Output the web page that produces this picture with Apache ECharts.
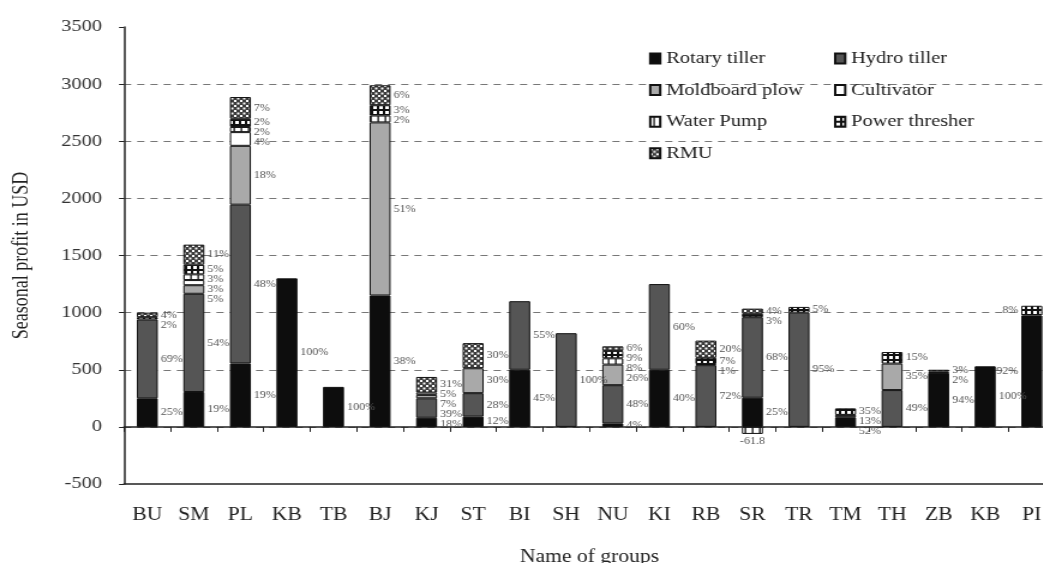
<!DOCTYPE html>
<html><head><meta charset="utf-8">
<script src="https://cdn.jsdelivr.net/npm/echarts@6/dist/echarts.min.js"></script>
<style>html,body{margin:0;padding:0;background:#fff}#wrap{width:1043px;height:563px;overflow:hidden;position:relative}#c{height:563px;transform-origin:0 0;position:absolute;left:0;top:0}</style>
</head><body><div id="wrap"><div id="c"></div></div>
<script>
const categories = ["BU","SM","PL","KB","TB","BJ","KJ","ST","BI","SH","NU","KI","RB","SR","TR","TM","TH","ZB","KB","PI"];
const seriesNames = ["Rotary tiller","Hydro tiller","Moldboard plow","Cultivator","Water Pump","Power thresher","RMU"];
const rotaryTiller  = [250, 305, 555, 1300, 350, 1150, 80, 90, 500, 0, 30, 500, 0, 255, 0, 84, 0, 472, 530, 975];
const hydroTiller   = [690, 860, 1390, 0, 0, 0, 170, 205, 600, 820, 335, 750, 540, 705, 1000, 21, 322, 12, 0, 0];
const moldboardPlow = [0, 75, 515, 0, 0, 1515, 30, 218, 0, 0, 180, 0, 0, 0, 0, 0, 232, 0, 0, 0];
const cultivator    = [0, 45, 120, 0, 0, 0, 20, 0, 0, 0, 0, 0, 0, 0, 0, 0, 0, 0, 0, 0];
const waterPump     = [0, 50, 45, 0, 0, 60, 0, 0, 0, 0, 55, 0, 10, -61.8, 0, 0, 0, 0, 0, 0];
const powerThresher = [20, 85, 72, 0, 0, 90, 0, 0, 0, 0, 65, 0, 55, 30, 50, 57, 101, 0, 0, 85];
const rmu           = [40, 175, 190, 0, 0, 175, 137, 220, 0, 0, 40, 0, 150, 45, 0, 0, 0, 16, 0, 0];
const yAxisName = "Seasonal profit in USD";
const xAxisName = "Name of groups";

const allValues = [rotaryTiller, hydroTiller, moldboardPlow, cultivator, waterPump, powerThresher, rmu];
const FONT = "'Liberation Serif', serif";

// the reference figure is horizontally stretched; draw narrower and stretch the same way
const SX = 1.2;
const W = 1043, H = 563;
const el = document.getElementById('c');
el.style.width = (W / SX) + 'px';
el.style.transform = 'scaleX(' + SX + ')';
const px = v => v / SX;   // horizontal page pixels -> chart pixels

function pattern(size, draw) {
  const c = document.createElement('canvas');
  c.width = size; c.height = size;
  const g = c.getContext('2d');
  draw(g, size);
  return { image: c, repeat: 'repeat' };
}
const fills = [
  '#0d0d0d',
  '#555555',
  '#a9a9a9',
  '#ffffff',
  pattern(6, (g, s) => { g.fillStyle = '#fff'; g.fillRect(0, 0, s, s); g.fillStyle = '#111'; g.fillRect(2.5, 0, 1.3, s); }),
  pattern(5, (g, s) => { g.fillStyle = '#111'; g.fillRect(0, 0, s, s); g.fillStyle = '#fff'; g.fillRect(1, 1, 3, 3); }),
  pattern(5, (g, s) => { g.fillStyle = '#3a3a3a'; g.fillRect(0, 0, s, s); g.fillStyle = '#fff'; g.fillRect(0, 0, 2, 2); g.fillRect(2.5, 2.5, 2, 2); })
];

const totals = categories.map((_, i) => allValues.reduce((a, arr) => a + (arr[i] > 0 ? arr[i] : 0), 0));

const chart = echarts.init(el, null, { renderer: 'canvas' });

function buildSeries(offsets) {
  return seriesNames.map((name, k) => ({
    name, type: 'bar', stack: 'total', xAxisIndex: 0, yAxisIndex: 0, barWidth: px(21),
    itemStyle: { color: fills[k], borderColor: '#111', borderWidth: 1 },
    label: {
      show: true, position: 'right', distance: px(3), fontFamily: FONT, fontSize: 10, color: '#555',
      formatter: p => {
        const v = p.value;
        if (v < 0) return String(v);
        return Math.round(v / totals[p.dataIndex] * 100) + '%';
      }
    },
    data: allValues[k].map((v, i) => {
      if (v === 0) return '-';
      const lab = {};
      if (v < 0) lab.position = 'bottom';
      else if (i === categories.length - 1) lab.position = 'left';
      if (offsets && offsets[k][i]) lab.offset = [0, offsets[k][i]];
      return { value: v, label: lab };
    })
  }));
}

const legendText = { fontFamily: FONT, fontSize: 17, color: '#222' };
const legendCommon = { orient: 'vertical', top: 45, itemWidth: px(10), itemHeight: 10, itemGap: 14.6,
  textStyle: legendText, icon: 'rect' };
const option = {
  animation: false,
  backgroundColor: '#fff',
  textStyle: { fontFamily: FONT },
  grid: { left: px(124), width: px(931), top: 27, bottom: 79, containLabel: false, outerBoundsMode: 'none' },
  legend: [
    Object.assign({ data: ["Rotary tiller","Moldboard plow","Water Pump","RMU"], left: px(643) }, legendCommon),
    Object.assign({ data: ["Hydro tiller","Cultivator","Power thresher"], left: px(828) }, legendCommon)
  ],
  xAxis: [
    { type: 'category', data: categories, position: 'bottom',
      axisLine: { onZero: false, lineStyle: { color: '#222', width: 1.5 } },
      axisTick: { show: false },
      axisLabel: { fontFamily: FONT, fontSize: 18, color: '#222', margin: 22 },
      name: xAxisName, nameLocation: 'middle', nameGap: 64,
      nameTextStyle: { fontFamily: FONT, fontSize: 18, color: '#222' } },
    { type: 'category', data: categories, position: 'bottom',
      axisLine: { onZero: true, lineStyle: { color: '#222', width: 1.5 } },
      axisTick: { show: true, length: 5, lineStyle: { color: '#222' } },
      axisLabel: { show: false }, splitLine: { show: false } }
  ],
  yAxis: {
    type: 'value', min: -500, max: 3500, interval: 500,
    axisLine: { show: true, lineStyle: { color: '#222', width: 1.5 } },
    axisTick: { show: true, length: px(5), lineStyle: { color: '#222' } },
    axisLabel: { fontFamily: FONT, fontSize: 17, color: '#333', margin: px(22), formatter: v => String(v) },
    splitLine: { show: true, showMinLine: false, showMaxLine: false, lineStyle: { type: [6, 5], color: '#777', width: 1 } },
    name: yAxisName, nameLocation: 'middle', nameGap: px(124 - 22) - 9,
    nameTextStyle: { fontFamily: FONT, fontSize: 18, color: '#222' }
  },
  series: buildSeries(null)
};
chart.setOption(option);

// spread overlapping segment labels vertically within each bar
const offsets = seriesNames.map(() => categories.map(() => 0));
categories.forEach((_, i) => {
  let base = 0; const items = [];
  allValues.forEach((arr, k) => {
    const v = arr[i];
    if (v > 0) {
      const py = chart.convertToPixel({ xAxisIndex: 0, yAxisIndex: 0 }, [i, base + v / 2])[1];
      items.push({ k, py }); base += v;
    }
  });
  items.sort((a, b) => a.py - b.py);
  let prev = -1e9;
  items.forEach(it => { const y = Math.max(it.py, prev + 10); offsets[it.k][i] = y - it.py; prev = y; });
});
chart.setOption({ series: buildSeries(offsets) });
</script></body></html>
